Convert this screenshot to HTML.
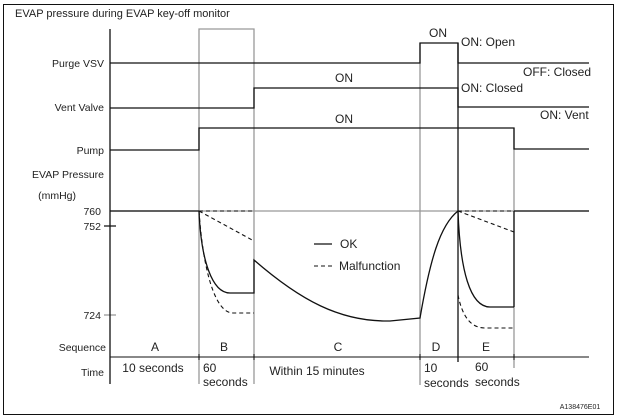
<!DOCTYPE html><html><head><style>body{margin:0;background:#fff}svg{display:block}text{font-family:"Liberation Sans",sans-serif;fill:#222}</style></head><body>
<svg width="617" height="417" viewBox="0 0 617 417" font-size="11">
<rect x="3.5" y="4.5" width="610" height="410" fill="none" stroke="#111" stroke-width="1"/>
<text x="15" y="17">EVAP pressure during EVAP key-off monitor</text>
<g text-anchor="end" font-size="10.5">
<text x="104" y="67">Purge VSV</text><text x="104" y="111">Vent Valve</text><text x="104" y="154">Pump</text>
<text x="104" y="178">EVAP Pressure</text><text x="76" y="199">(mmHg)</text>
<text x="101" y="215">760</text><text x="101" y="230">752</text><text x="101" y="319">724</text>
<text x="106" y="351">Sequence</text><text x="104" y="376">Time</text></g>
<g stroke="#999" stroke-width="1.3" fill="none">
<path d="M199 384V29H254V384M420 385V43M514 368V128M110 211H589"/>
<path d="M104 315H116"/></g>
<g stroke="#111" stroke-width="1.3" fill="none">
<path d="M110 29V384M104 226H116"/>
<path d="M110 63H420V43H458V63H589"/>
<path d="M110 108H254V88H458V107H589"/>
<path d="M110 150H199V128H514V149H589"/>
<path d="M458 43V362"/>
<path d="M110 211H199M514 211H589M514 211V307"/>
<path d="M199 211C201 260 212 293 230 293H254V260C300 300 340 322 390 321L420 318C430 260 440 225 458 211C460 270 470 307 490 307H514"/>
<path d="M314 244H332"/>
</g>
<g stroke="#111" stroke-width="1.1" fill="none" stroke-dasharray="4,3">
<path d="M199 211H254M199 211L254 241M199 211C203 270 215 313 233 313H254"/>
<path d="M458 211H514M458 211L514 232M458 295C462 315 470 328 485 328H514"/>
<path d="M314 266H332"/>
</g>
<text x="340" y="248" font-size="12">OK</text><text x="339" y="270" font-size="12">Malfunction</text>
<g stroke="#111" stroke-width="1"><path d="M110 357H589"/>
<path d="M110 354V360M199 354V360M254 354V360M420 354V360M458 354V360M514 354V360"/></g>
<g text-anchor="middle" font-size="12"><text x="155" y="351">A</text><text x="224" y="351">B</text><text x="338" y="351">C</text><text x="436" y="351">D</text><text x="486" y="351">E</text>
<text x="153" y="372">10 seconds</text><text x="317" y="375">Within 15 minutes</text></g>
<text x="203" y="372" font-size="12">60</text><text x="203" y="386" font-size="12">seconds</text>
<text x="424" y="372" font-size="12">10</text><text x="424" y="387" font-size="12">seconds</text>
<text x="475" y="371" font-size="12">60</text><text x="475" y="386" font-size="12">seconds</text>
<g font-size="12"><text x="429" y="37">ON</text><text x="461" y="46">ON: Open</text><text x="523" y="76">OFF: Closed</text>
<text x="335" y="82">ON</text><text x="461" y="92">ON: Closed</text><text x="540" y="119">ON: Vent</text><text x="335" y="123">ON</text></g>
<text x="580" y="409" style="font-size:7px" text-anchor="middle">A138476E01</text>
</svg></body></html>
